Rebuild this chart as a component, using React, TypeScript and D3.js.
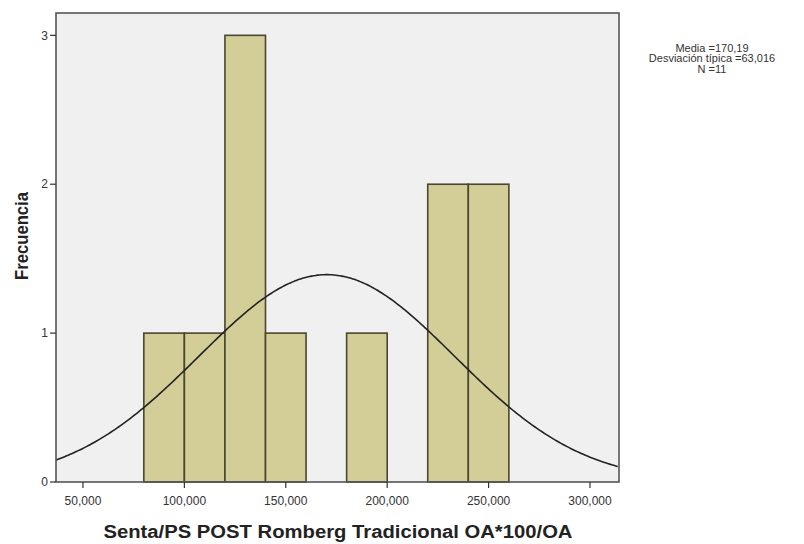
import React from "react";
import * as d3 from "d3";

const binStarts = [80, 100, 120, 140, 160, 180, 200, 220, 240];
const binCounts = [1, 1, 3, 1, 0, 1, 0, 2, 2];
const binWidth = 20;
const xTicks = [50, 100, 150, 200, 250, 300];
const yTicks = [0, 1, 2, 3];
const mean = 170.19;
const sd = 63.016;
const n = 11;
const statsLines = ["Media =170,19", "Desviación típica =63,016", "N =11"];

export default function App() {
  const W = 804, H = 544;
  const left = 56, right = 619, top = 13, bottom = 482;
  const x = d3.scaleLinear().domain([36.7, 314.3]).range([left, right]);
  const y = d3.scaleLinear().domain([0, 3.15]).range([bottom, top]);
  const label = (v: number) => `${v},000`;

  const curvePts = d3.range(36.7, 314.31, 1).map((v) => [
    v,
    (n * binWidth) / (sd * Math.sqrt(2 * Math.PI)) * Math.exp(-0.5 * ((v - mean) / sd) ** 2),
  ]);
  const line = d3.line<number[]>().x((d) => x(d[0])).y((d) => y(d[1])).curve(d3.curveBasis);

  const bars = binStarts.map((s, i) => ({ s, c: binCounts[i] })).filter((b) => b.c > 0);

  return (
    <svg width={W} height={H} style={{ position: "absolute", left: 0, top: 0, background: "#fff" }}
      fontFamily="Arial, 'Liberation Sans', sans-serif">
      <rect x={left} y={top} width={right - left} height={bottom - top} fill="#f0f0f0" />
      {bars.map((b) => (
        <rect key={b.s} x={x(b.s)} y={y(b.c)} width={x(b.s + binWidth) - x(b.s)} height={bottom - y(b.c)}
          fill="#d3ce97" stroke="#4a4630" strokeWidth={1.6} />
      ))}
      <path d={line(curvePts) || ""} fill="none" stroke="#222" strokeWidth={1.6} />
      <rect x={left} y={top} width={right - left} height={bottom - top} fill="none" stroke="#555" strokeWidth={1.6} />
      {yTicks.map((t) => (
        <g key={t}>
          <line x1={left - 6} x2={left} y1={y(t)} y2={y(t)} stroke="#333" strokeWidth={1.2} />
          <text x={left - 8} y={y(t)} dy="0.35em" textAnchor="end" fontSize={12} fill="#333">{t}</text>
        </g>
      ))}
      {xTicks.map((t) => (
        <g key={t}>
          <line x1={x(t)} x2={x(t)} y1={bottom} y2={bottom + 6} stroke="#333" strokeWidth={1.2} />
          <text x={x(t)} y={bottom + 19} dy="0.35em" textAnchor="middle" fontSize={12} fill="#333">{label(t)}</text>
        </g>
      ))}
      <text x={338} y={538} textAnchor="middle" fontSize={18} fontWeight="bold" fill="#222"
        textLength={469} lengthAdjust="spacingAndGlyphs">
        Senta/PS POST Romberg Tradicional OA*100/OA
      </text>
      <text transform={`translate(28,236) rotate(-90)`} textAnchor="middle" fontSize={17.5}
        fontWeight="bold" fill="#222" textLength={88} lengthAdjust="spacingAndGlyphs">Frecuencia</text>
      {statsLines.map((s, i) => (
        <text key={i} x={712} y={48 + i * 10.5} dy="0.35em" textAnchor="middle" fontSize={11} fill="#333">{s}</text>
      ))}
    </svg>
  );
}
